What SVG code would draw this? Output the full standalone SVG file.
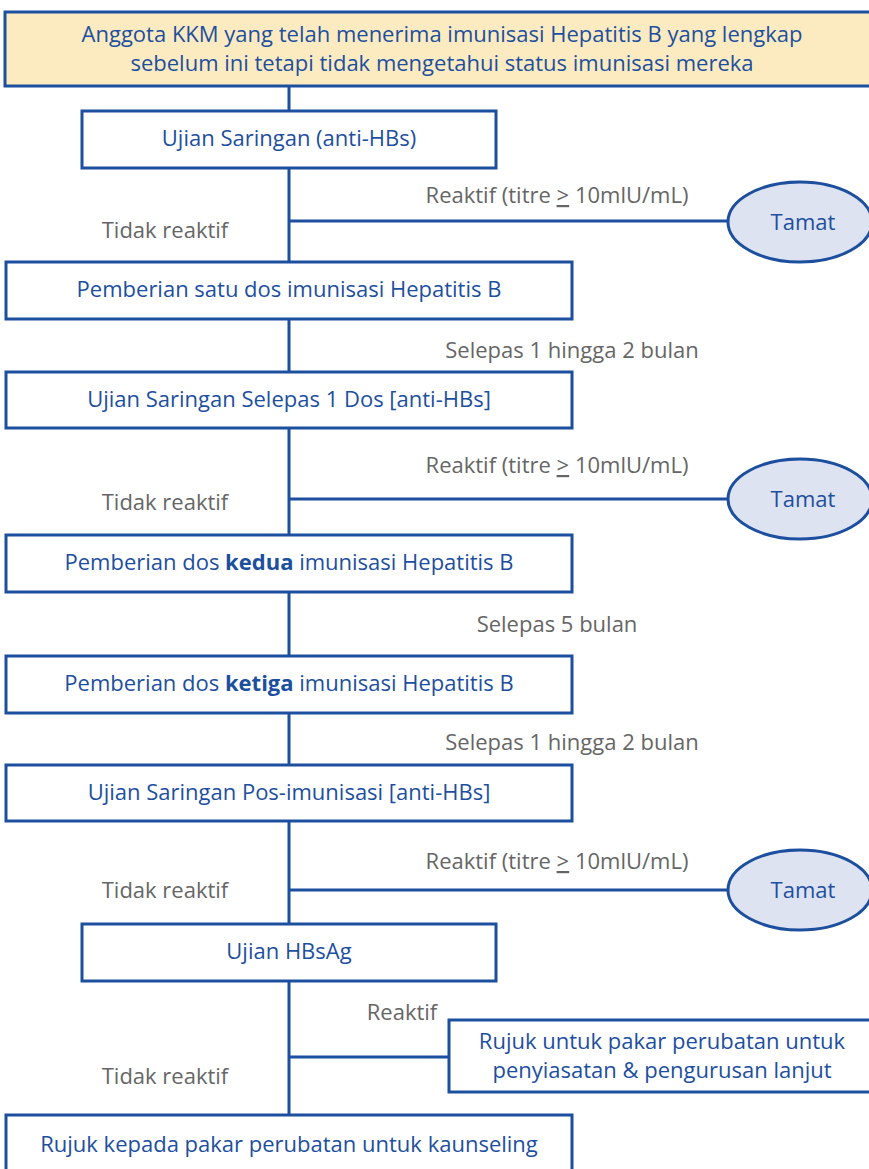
<svg xmlns="http://www.w3.org/2000/svg" width="869" height="1169" viewBox="0 0 869 1169">
<style>
.box{fill:#fff;stroke:#1d4f9f;stroke-width:3}
.hdr{fill:#fcebc1;stroke:#1d4f9f;stroke-width:3}
.end{fill:#dde3f1;stroke:#1d4f9f;stroke-width:3}
.ln{stroke:#1d4f9f;stroke-width:3;fill:none}
.t{font-family:"Open Sans","Noto Sans",sans-serif;font-size:22px;fill:#1d4f9f;text-anchor:middle}
.g{font-family:"Open Sans","Noto Sans",sans-serif;font-size:22px;fill:#666;text-anchor:middle}
.b{font-weight:bold}
</style>
<rect width="869" height="1169" fill="#fff"/>
<g id="connectors">
<line class="ln" x1="289" y1="86" x2="289" y2="1115"/>
<line class="ln" x1="289" y1="221" x2="728" y2="221"/>
<line class="ln" x1="289" y1="499" x2="728" y2="499"/>
<line class="ln" x1="289" y1="890" x2="728" y2="890"/>
<line class="ln" x1="289" y1="1057" x2="449" y2="1057"/>
</g>
<g id="labels">
<text class="g" x="557" y="203">Reaktif (titre <tspan text-decoration="underline">&gt;</tspan> 10mlU/mL)</text>
<text class="g" x="165" y="238">Tidak reaktif</text>
<text class="g" x="572" y="358">Selepas 1 hingga 2 bulan</text>
<text class="g" x="557" y="473">Reaktif (titre <tspan text-decoration="underline">&gt;</tspan> 10mlU/mL)</text>
<text class="g" x="165" y="510">Tidak reaktif</text>
<text class="g" x="557" y="632">Selepas 5 bulan</text>
<text class="g" x="572" y="750">Selepas 1 hingga 2 bulan</text>
<text class="g" x="557" y="869">Reaktif (titre <tspan text-decoration="underline">&gt;</tspan> 10mlU/mL)</text>
<text class="g" x="165" y="898">Tidak reaktif</text>
<text class="g" x="402" y="1020">Reaktif</text>
<text class="g" x="165" y="1084">Tidak reaktif</text>
</g>
<g id="n0">
<rect class="hdr" x="5" y="12" width="870" height="74"/>
<text class="t" x="442" y="42">Anggota KKM yang telah menerima imunisasi Hepatitis B yang lengkap</text>
<text class="t" x="442" y="71">sebelum ini tetapi tidak mengetahui status imunisasi mereka</text>
</g>
<g id="n1">
<rect class="box" x="82" y="111" width="414" height="57"/>
<text class="t" x="289" y="146">Ujian Saringan (anti-HBs)</text>
</g>
<g id="end1">
<ellipse class="end" cx="800" cy="222" rx="72" ry="40"/>
<text class="t" x="803" y="230">Tamat</text>
</g>
<g id="n2">
<rect class="box" x="6" y="262" width="566" height="57"/>
<text class="t" x="289" y="297">Pemberian satu dos imunisasi Hepatitis B</text>
</g>
<g id="n3">
<rect class="box" x="6" y="372" width="566" height="56"/>
<text class="t" x="289" y="407">Ujian Saringan Selepas 1 Dos [anti-HBs]</text>
</g>
<g id="end2">
<ellipse class="end" cx="800" cy="499" rx="72" ry="40"/>
<text class="t" x="803" y="507">Tamat</text>
</g>
<g id="n4">
<rect class="box" x="6" y="535" width="566" height="57"/>
<text class="t" x="289" y="570">Pemberian dos <tspan class="b">kedua</tspan> imunisasi Hepatitis B</text>
</g>
<g id="n5">
<rect class="box" x="6" y="656" width="566" height="57"/>
<text class="t" x="289" y="691">Pemberian dos <tspan class="b">ketiga</tspan> imunisasi Hepatitis B</text>
</g>
<g id="n6">
<rect class="box" x="6" y="765" width="566" height="56"/>
<text class="t" x="289" y="800">Ujian Saringan Pos-imunisasi [anti-HBs]</text>
</g>
<g id="end3">
<ellipse class="end" cx="800" cy="890" rx="72" ry="40"/>
<text class="t" x="803" y="898">Tamat</text>
</g>
<g id="n7">
<rect class="box" x="82" y="924" width="414" height="57"/>
<text class="t" x="289" y="959">Ujian HBsAg</text>
</g>
<g id="n8">
<rect class="box" x="449" y="1020" width="425" height="72"/>
<text class="t" x="662" y="1049">Rujuk untuk pakar perubatan untuk</text>
<text class="t" x="662" y="1078">penyiasatan &amp; pengurusan lanjut</text>
</g>
<g id="n9">
<rect class="box" x="6" y="1115" width="566" height="60"/>
<text class="t" x="289" y="1152">Rujuk kepada pakar perubatan untuk kaunseling</text>
</g>
</svg>
